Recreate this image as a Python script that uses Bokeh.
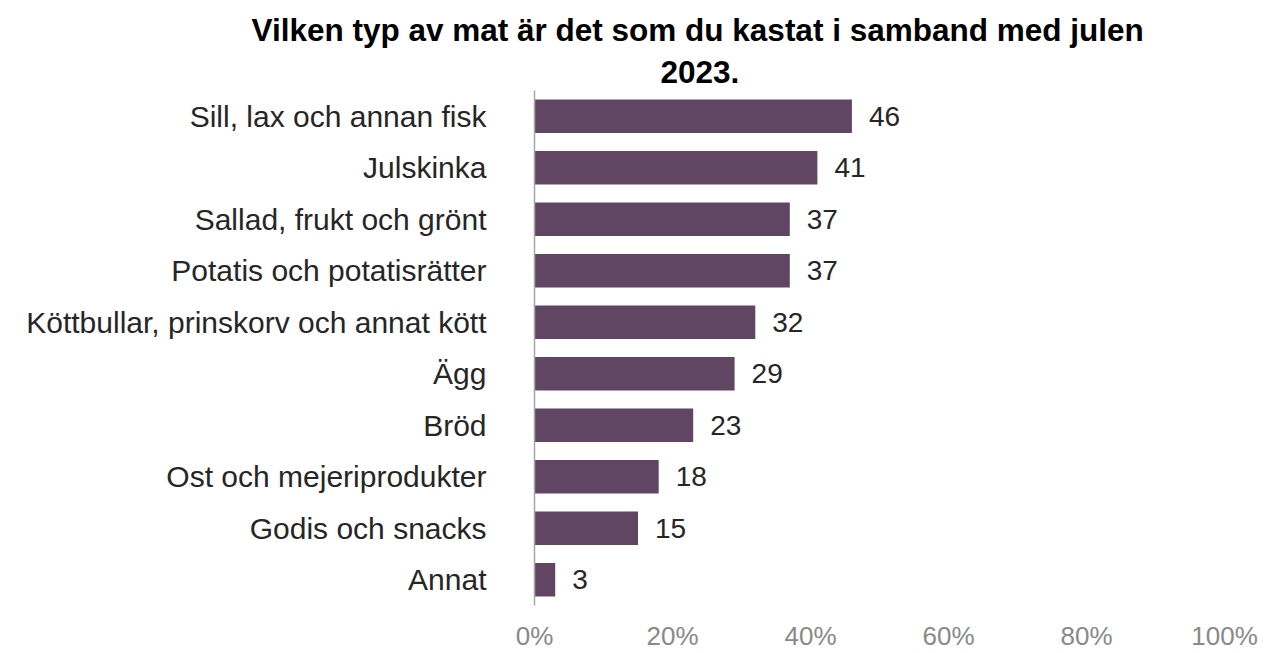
from bokeh.plotting import figure
from bokeh.models import ColumnDataSource, Range1d, FactorRange, Title, FixedTicker
from bokeh.core.properties import value
from bokeh.embed import file_html
from bokeh.resources import INLINE

categories = [
    "Sill, lax och annan fisk",
    "Julskinka",
    "Sallad, frukt och grönt",
    "Potatis och potatisrätter",
    "Köttbullar, prinskorv och annat kött",
    "Ägg",
    "Bröd",
    "Ost och mejeriprodukter",
    "Godis och snacks",
    "Annat",
]
values = [46, 41, 37, 37, 32, 29, 23, 18, 15, 3]
tick_values = [0, 20, 40, 60, 80, 100]
tick_labels = ["0%", "20%", "40%", "60%", "80%", "100%"]
title_line1 = "Vilken typ av mat är det som du kastat i samband med julen"
title_line2 = "2023."

FONT = "Liberation Sans"
BAR = "#614664"

source = ColumnDataSource(dict(cat=categories, val=values, lbl=[str(v) for v in values]))

p = figure(
    width=1270, height=653,
    y_range=FactorRange(factors=list(reversed(categories)), range_padding=0),
    x_range=Range1d(0, 100),
    output_backend="svg", toolbar_location=None,
    min_border_left=534, min_border_right=46, min_border_top=90, min_border_bottom=20,
)

# outer title line
p.title.text = title_line1
p.title.align = "left"
p.title.text_font = FONT
p.title.text_font_size = "31.5px"
p.title.text_font_style = "bold"
p.title.text_color = "#000000"
p.title.offset = -283
p.title.standoff = 5

# inner title line
t2 = Title(text=title_line2, align="left", text_font=FONT, text_font_size="31.5px",
           text_font_style="bold", text_color="#000000", offset=126, standoff=16)
p.add_layout(t2, "above")

p.hbar(y="cat", right="val", left=0, height=0.65, source=source,
       fill_color=BAR, line_color=None)

p.text(x="val", y="cat", text="lbl", source=source, x_offset=17,
       text_font=value(FONT), text_font_size="28px", text_color="#262626",
       text_baseline="middle", text_align="left")

p.xgrid.grid_line_color = None
p.ygrid.grid_line_color = None
p.outline_line_color = None

xa = p.xaxis[0]
xa.ticker = FixedTicker(ticks=tick_values)
xa.major_label_overrides = {t: l for t, l in zip(tick_values, tick_labels)}
xa.axis_line_color = None
xa.major_tick_line_color = None
xa.minor_tick_line_color = None
xa.major_tick_out = 0
xa.major_label_text_font = FONT
xa.major_label_text_font_size = "26px"
xa.major_label_text_color = "#898989"
xa.major_label_standoff = 15

ya = p.yaxis[0]
ya.axis_line_color = "#a6a6a6"
ya.axis_line_width = 1.5
ya.major_tick_line_color = None
ya.minor_tick_line_color = None
ya.major_tick_out = 0
ya.major_label_text_font = FONT
ya.major_label_text_font_size = "30px"
ya.major_label_text_color = "#262626"
ya.major_label_standoff = 48

open("out.html", "w").write(file_html(p, INLINE))
